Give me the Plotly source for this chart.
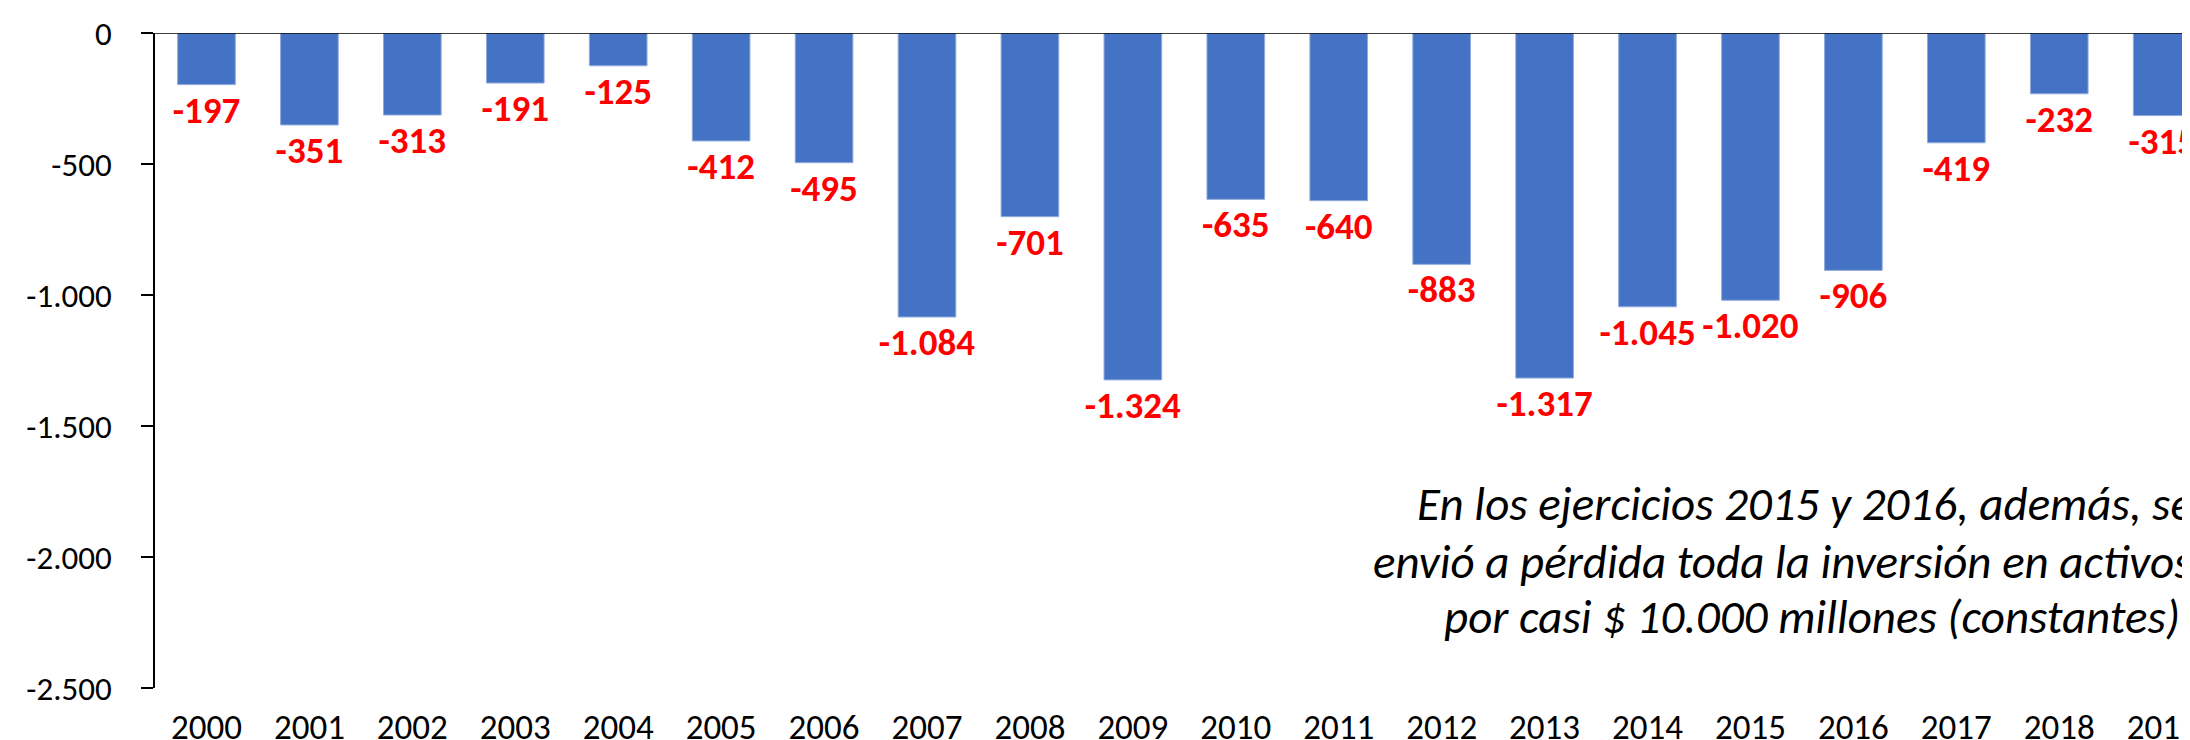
import plotly.graph_objects as go

years = [str(y) for y in range(2000, 2020)]
values = [-197, -351, -313, -191, -125, -412, -495, -1084, -701, -1324,
          -635, -640, -883, -1317, -1045, -1020, -906, -419, -232, -315]
y_tickvals = [0, -500, -1000, -1500, -2000, -2500]
y_ticktext = ["0", "-500", "-1.000", "-1.500", "-2.000", "-2.500"]
note_lines = ["En los ejercicios 2015 y 2016, además, se",
              "envió a pérdida toda la inversión en activos",
              "por casi $ 10.000 millones (constantes)"]


def fmt(v):
    s = f"{abs(v):,}".replace(",", ".")
    return ("-" if v < 0 else "") + s


labels = [fmt(v) for v in values]
FONT = "Carlito, Lato, 'Liberation Sans', sans-serif"

fig = go.Figure()
fig.add_trace(go.Bar(
    x=years, y=values,
    marker=dict(color="#4472C4", line=dict(color="#8FAADC", width=1)),
    text=labels, textposition="outside", cliponaxis=False,
    constraintext="none",
    textfont=dict(family=FONT, size=37, color="#FF0000", weight="bold"),
    width=0.56,
))

fig.add_shape(type="line", xref="paper", yref="y", x0=0, x1=1.02, y0=0, y1=0,
              line=dict(color="#000000", width=1.5), layer="above")

note_x = [0.6191, 0.5971, 0.6323]
note_y = [0.2808, 0.1931, 0.1078]
for t, xx, yy in zip(note_lines, note_x, note_y):
    fig.add_annotation(text=t, xref="paper", yref="paper", x=xx, y=yy,
                       xanchor="left", yanchor="middle", showarrow=False,
                       font=dict(family=FONT, size=47, color="#000000", style="italic"))

fig.update_layout(
    width=2190, height=740,
    margin=dict(l=147, r=0, t=25, b=50),
    plot_bgcolor="white", paper_bgcolor="white",
    showlegend=False,
    font=dict(family=FONT, size=33, color="#000000"),
    xaxis=dict(type="category", range=[-0.5, 19.28], showline=False, showgrid=False,
               zeroline=False, ticks="", ticklabelstandoff=15,
               tickfont=dict(family=FONT, size=35, color="#000000")),
    yaxis=dict(range=[-2500, 0], tickvals=y_tickvals, ticktext=y_ticktext,
               showline=True, linecolor="#000000", linewidth=1.5,
               ticks="outside", ticklen=12, tickwidth=1.5, tickcolor="#000000",
               showgrid=False, zeroline=False, ticklabelstandoff=23,
               tickfont=dict(family=FONT, size=33, color="#000000")),
)

fig.write_html("out.html")
